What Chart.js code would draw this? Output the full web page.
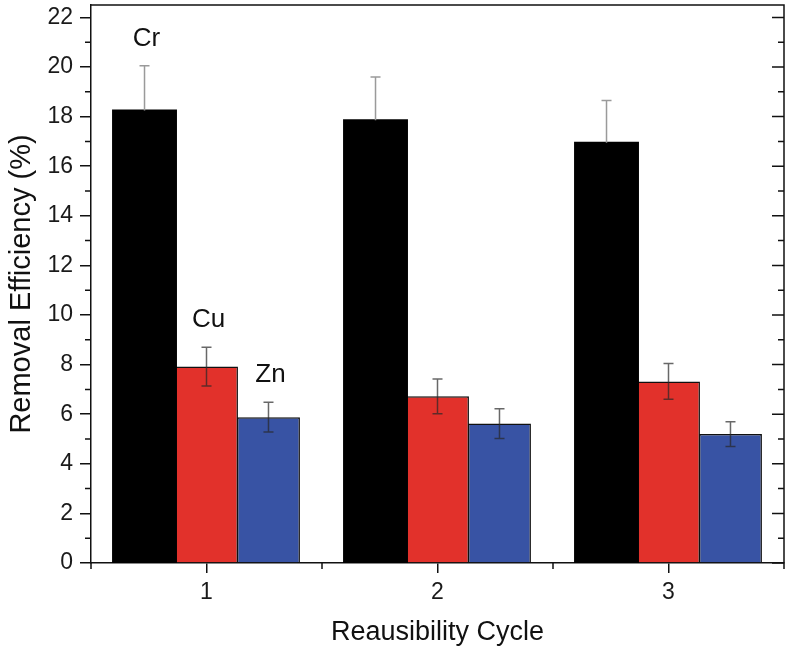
<!DOCTYPE html>
<html>
<head>
<meta charset="utf-8">
<script src="https://cdn.jsdelivr.net/npm/chart.js@4.4.1/dist/chart.umd.min.js"></script>
<style>
  body { margin: 0; background: #fff; }
  #wrap { width: 800px; height: 657px; }
</style>
</head>
<body>
<div id="wrap"><canvas id="bars"></canvas></div>
<script>
// cycles and values
const cycles = ['1', '2', '3'];
const metals = ['Cr', 'Cu', 'Zn'];
const crValues = [18.25, 17.85, 16.95];
const cuValues = [7.92, 6.72, 7.32];
const znValues = [5.88, 5.62, 5.2];
const crErrors = [1.8, 1.75, 1.7];
const cuErrors = [0.78, 0.7, 0.72];
const znErrors = [0.6, 0.6, 0.5];
const yMajorTicks = [0, 2, 4, 6, 8, 10, 12, 14, 16, 18, 20, 22];
const yMinorTicks = [1, 3, 5, 7, 9, 11, 13, 15, 17, 19, 21];

const errors = [crErrors, cuErrors, znErrors];
const plusOnly = [true, false, false];
const FONT = '"Liberation Sans", Arial, sans-serif';

// error bars, metal names, frame and minor ticks
const extras = {
    id: 'extras',
    afterDatasetsDraw(chart) {
        const ctx = chart.ctx;
        const y = chart.scales.y;
        ctx.save();
        chart.data.datasets.forEach((ds, i) => {
            const meta = chart.getDatasetMeta(i);
            meta.data.forEach((bar, j) => {
                const v = ds.data[j];
                const e = errors[i][j];
                const top = y.getPixelForValue(v + e);
                const bot = plusOnly[i] ? y.getPixelForValue(v) : y.getPixelForValue(v - e);
                ctx.strokeStyle = i === 0 ? '#9a9a9a' : 'rgba(40,40,40,0.7)';
                ctx.lineWidth = 1.5;
                ctx.beginPath();
                ctx.moveTo(bar.x, top);
                ctx.lineTo(bar.x, bot);
                ctx.moveTo(bar.x - 5, top);
                ctx.lineTo(bar.x + 5, top);
                if (!plusOnly[i]) {
                    ctx.moveTo(bar.x - 5, bot);
                    ctx.lineTo(bar.x + 5, bot);
                }
                ctx.stroke();
                if (j === 0) {
                    ctx.fillStyle = '#111';
                    ctx.font = '26px ' + FONT;
                    ctx.textAlign = 'center';
                    ctx.textBaseline = 'middle';
                    ctx.fillText(metals[i], bar.x + 2, top - 27);
                }
            });
        });
        ctx.restore();
    },
    afterDraw(chart) {
        const ctx = chart.ctx;
        const a = chart.chartArea;
        const y = chart.scales.y;
        const x = chart.scales.x;
        ctx.save();
        ctx.strokeStyle = '#111';
        ctx.lineWidth = 1.5;
        ctx.beginPath();
        ctx.moveTo(a.left, a.top);
        ctx.lineTo(a.right, a.top);
        ctx.lineTo(a.right, a.bottom);
        yMajorTicks.forEach(t => {
            const p = y.getPixelForValue(t);
            ctx.moveTo(a.right, p);
            ctx.lineTo(a.right - 12, p);
        });
        yMinorTicks.forEach(t => {
            const p = y.getPixelForValue(t);
            ctx.moveTo(a.right, p);
            ctx.lineTo(a.right - 6, p);
            ctx.moveTo(a.left, p);
            ctx.lineTo(a.left - 6, p);
        });
        const half = (x.getPixelForValue(1) - x.getPixelForValue(0)) / 2;
        for (let i = 0; i <= cycles.length; i++) {
            const p = x.getPixelForValue(0) - half + i * 2 * half;
            ctx.moveTo(p, a.bottom);
            ctx.lineTo(p, a.bottom + 6);
        }
        ctx.stroke();
        ctx.restore();
    }
};

new Chart(document.getElementById('bars'), {
    type: 'bar',
    data: {
        labels: cycles,
        datasets: [
            { label: 'Cr', data: crValues, backgroundColor: '#000000', borderWidth: 0, inflateAmount: 1 },
            { label: 'Cu', data: cuValues, backgroundColor: '#e2312b', borderColor: '#111111', borderWidth: 1.5 },
            { label: 'Zn', data: znValues, backgroundColor: '#3853a4', borderColor: '#111111', borderWidth: 1.5 }
        ]
    },
    options: {
        responsive: true,
        maintainAspectRatio: false,
        animation: false,
        layout: { padding: { left: 0, right: 16, top: 5, bottom: 0 } },
        categoryPercentage: 0.805,
        barPercentage: 1.015,
        plugins: {
            legend: { display: false },
            tooltip: { enabled: false }
        },
        scales: {
            x: {
                grid: { offset: false, drawOnChartArea: false, tickLength: 10, color: '#111', lineWidth: 1.5 },
                border: { color: '#111', width: 1.5 },
                ticks: { color: '#1a1a1a', font: { size: 23, family: FONT }, padding: 6 },
                title: {
                    display: true,
                    text: 'Reausibility Cycle',
                    color: '#111',
                    font: { size: 27, family: FONT },
                    padding: { top: 0, bottom: 8 }
                },
                afterFit(scale) { scale.height = 94; scale.paddingLeft = 0; scale.paddingRight = 0; }
            },
            y: {
                min: 0,
                max: 22.5,
                afterBuildTicks(scale) { scale.ticks = yMajorTicks.map(v => ({ value: v })); },
                grid: { drawOnChartArea: false, tickLength: 11, color: '#111', lineWidth: 1.5 },
                border: { color: '#111', width: 1.5 },
                ticks: { color: '#1a1a1a', font: { size: 23, family: FONT }, padding: 7 },
                title: {
                    display: true,
                    text: 'Removal Efficiency (%)',
                    color: '#111',
                    font: { size: 29, family: FONT },
                    padding: { top: 5, bottom: 0 }
                },
                afterFit(scale) { scale.width = 91; scale.paddingTop = 0; scale.paddingBottom = 0; }
            }
        }
    },
    plugins: [extras]
});
</script>
</body>
</html>
